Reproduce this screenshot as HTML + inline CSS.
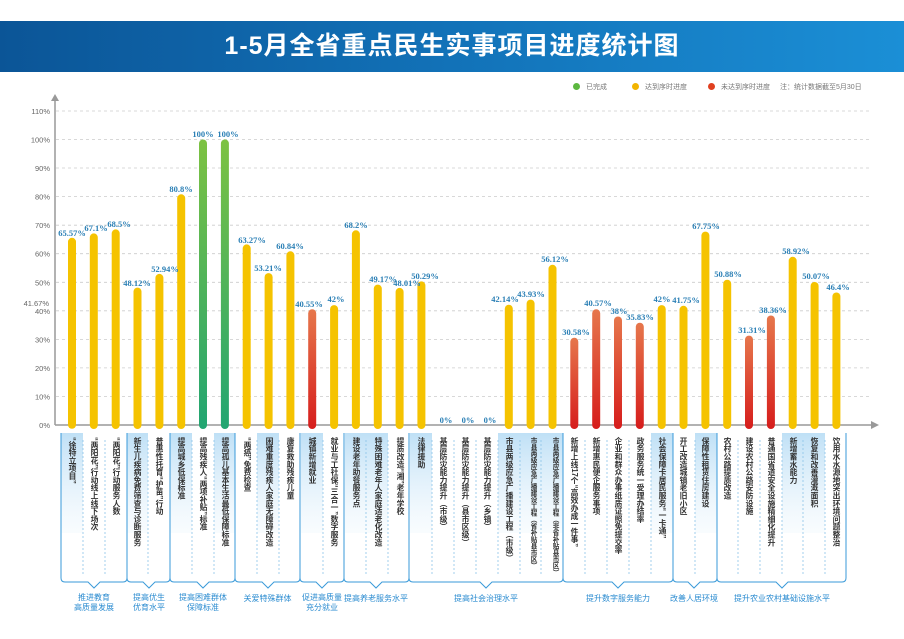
<!DOCTYPE html>
<html><head><meta charset="utf-8"><style>
body{margin:0;width:904px;height:639px;overflow:hidden;background:#fff;font-family:"Liberation Sans","Noto Sans CJK SC",sans-serif;position:relative}
.hd{position:absolute;left:0;top:21px;width:904px;height:51px;background:linear-gradient(90deg,#0b5597,#1272b8 50%,#1b8fd6);color:#fff;text-align:center;font:bold 25px/51px "Liberation Sans","Noto Sans CJK SC",sans-serif;letter-spacing:1px}
.v{position:absolute;top:437px;writing-mode:vertical-rl;font:bold 7.8px/10px "Liberation Sans","Noto Sans CJK SC",sans-serif;color:#333;width:10px}
.s{font-size:6.6px}
.g{position:absolute;font:8px/10px "Liberation Sans","Noto Sans CJK SC",sans-serif;color:#2a8bd0;text-align:center}
.lg{position:absolute;top:83px;font:7px/10px "Liberation Sans","Noto Sans CJK SC",sans-serif;color:#777}
.dot{display:inline-block;width:7px;height:7px;border-radius:50%;vertical-align:-1px;margin-right:6px}
</style></head><body>
<div class="hd">1-5月全省重点民生实事项目进度统计图</div>
<div class="lg" style="left:573px"><span class="dot" style="background:#5cb840"></span>已完成</div>
<div class="lg" style="left:632px"><span class="dot" style="background:#f2b400"></span>达到序时进度</div>
<div class="lg" style="left:708px"><span class="dot" style="background:#e04020"></span>未达到序时进度</div>
<div class="lg" style="left:780px">注：统计数据截至5月30日</div>
<svg width="904" height="639" style="position:absolute;left:0;top:0" font-family="Liberation Sans, Noto Sans CJK SC, sans-serif">
<defs>
<linearGradient id="gg" x1="0" y1="0" x2="0" y2="1"><stop offset="0" stop-color="#7dc242"/><stop offset="1" stop-color="#22a572"/></linearGradient>
<linearGradient id="rg" x1="0" y1="0" x2="0" y2="1"><stop offset="0" stop-color="#e6774c"/><stop offset="1" stop-color="#d61d1c"/></linearGradient>
<linearGradient id="bg" x1="0" y1="0" x2="0" y2="1"><stop offset="0" stop-color="#bfe0f6"/><stop offset="1" stop-color="#eaf5fc" stop-opacity="0.3"/></linearGradient>
</defs>
<g stroke="#ccc" stroke-dasharray="3,3" stroke-width="0.8">
<line x1="56" x2="872" y1="111" y2="111"/><line x1="56" x2="872" y1="139.5" y2="139.5"/><line x1="56" x2="872" y1="168" y2="168"/><line x1="56" x2="872" y1="196.6" y2="196.6"/><line x1="56" x2="872" y1="225.2" y2="225.2"/><line x1="56" x2="872" y1="253.7" y2="253.7"/><line x1="56" x2="872" y1="282.3" y2="282.3"/><line x1="56" x2="872" y1="310.8" y2="310.8"/><line x1="56" x2="872" y1="339.4" y2="339.4"/><line x1="56" x2="872" y1="367.9" y2="367.9"/><line x1="56" x2="872" y1="396.5" y2="396.5"/>
</g>
<g font-size="7.5" fill="#666" text-anchor="end">
<text x="50" y="114">110%</text><text x="50" y="142.5">100%</text><text x="50" y="171">90%</text><text x="50" y="199.6">80%</text><text x="50" y="228.2">70%</text><text x="50" y="256.7">60%</text><text x="50" y="285.3">50%</text><text x="50" y="313.8">40%</text><text x="50" y="342.4">30%</text><text x="50" y="370.9">20%</text><text x="50" y="399.5">10%</text><text x="50" y="428">0%</text><text x="49" y="306">41.67%</text>
</g>
<line x1="55" y1="100" x2="55" y2="425" stroke="#999" stroke-width="1.5"/><polygon points="51,101 59,101 55,94" fill="#999"/>
<line x1="55" y1="425" x2="872" y2="425" stroke="#999" stroke-width="1.5"/><polygon points="871,421 871,429 879,425" fill="#999"/>
<g fill="url(#bg)">
<rect x="61" y="433" width="22" height="100"/><rect x="127" y="433" width="21" height="100"/><rect x="170" y="433" width="22" height="100"/><rect x="214" y="433" width="21" height="100"/><rect x="257" y="433" width="22" height="100"/><rect x="301" y="433" width="22" height="100"/><rect x="345" y="433" width="43" height="100"/><rect x="410" y="433" width="22" height="100"/><rect x="498" y="433" width="65" height="100"/><rect x="651" y="433" width="22" height="100"/><rect x="695" y="433" width="22" height="100"/><rect x="782" y="433" width="43" height="100"/>
</g>
<g fill="none" stroke="#3a9ad9" stroke-width="1">
<path d="M61,433V578Q61,582 65,582H88L94,588L100,582H123Q127,582 127,578V433"/>
<path d="M127,433V578Q127,582 131,582H143L149,588L155,582H166Q170,582 170,578V433"/>
<path d="M170,433V578Q170,582 174,582H197L203,588L209,582H231Q235,582 235,578V433"/>
<path d="M235,433V578Q235,582 239,582H262L268,588L274,582H296Q300,582 300,578V433"/>
<path d="M300,433V578Q300,582 304,582H316L322,588L328,582H340Q344,582 344,578V433"/>
<path d="M344,433V578Q344,582 348,582H370L376,588L382,582H405Q409,582 409,578V433"/>
<path d="M409,433V578Q409,582 413,582H480L486,588L492,582H559Q563,582 563,578V433"/>
<path d="M563,433V578Q563,582 567,582H612L618,588L624,582H669Q673,582 673,578V433"/>
<path d="M673,433V578Q673,582 677,582H688L694,588L700,582H713Q717,582 717,578V433"/>
<path d="M717,433V578Q717,582 721,582H776L782,588L788,582H842Q846,582 846,578V433"/>
</g>
<g stroke="#8cc4e8" stroke-dasharray="2,2" stroke-width="0.8">
<line x1="83" x2="83" y1="440" y2="575"/><line x1="105" x2="105" y1="440" y2="575"/><line x1="148" x2="148" y1="440" y2="575"/><line x1="192" x2="192" y1="440" y2="575"/><line x1="214" x2="214" y1="440" y2="575"/><line x1="257" x2="257" y1="440" y2="575"/><line x1="279" x2="279" y1="440" y2="575"/><line x1="323" x2="323" y1="440" y2="575"/><line x1="366" x2="366" y1="440" y2="575"/><line x1="388" x2="388" y1="440" y2="575"/><line x1="432" x2="432" y1="440" y2="575"/><line x1="454" x2="454" y1="440" y2="575"/><line x1="476" x2="476" y1="440" y2="575"/><line x1="498" x2="498" y1="440" y2="575"/><line x1="520" x2="520" y1="440" y2="575"/><line x1="541" x2="541" y1="440" y2="575"/><line x1="585" x2="585" y1="440" y2="575"/><line x1="607" x2="607" y1="440" y2="575"/><line x1="629" x2="629" y1="440" y2="575"/><line x1="651" x2="651" y1="440" y2="575"/><line x1="695" x2="695" y1="440" y2="575"/><line x1="738" x2="738" y1="440" y2="575"/><line x1="760" x2="760" y1="440" y2="575"/><line x1="782" x2="782" y1="440" y2="575"/><line x1="803" x2="803" y1="440" y2="575"/><line x1="825" x2="825" y1="440" y2="575"/>
</g>
<g fill="#f5c300">
<rect x="68" y="237.8" width="8" height="191" rx="4"/><rect x="89.8" y="233.4" width="8" height="195.6" rx="4"/><rect x="111.7" y="229.4" width="8" height="199.6" rx="4"/><rect x="133.5" y="287.6" width="8" height="141.4" rx="4"/><rect x="155.4" y="273.9" width="8" height="155.1" rx="4"/><rect x="177.2" y="194.3" width="8" height="234.7" rx="4"/>
<rect x="242.7" y="244.4" width="8" height="184.6" rx="4"/><rect x="264.6" y="273.1" width="8" height="155.9" rx="4"/><rect x="286.4" y="251.3" width="8" height="177.7" rx="4"/>
<rect x="330.1" y="305.1" width="8" height="123.9" rx="4"/><rect x="351.9" y="230.3" width="8" height="198.7" rx="4"/><rect x="373.8" y="284.6" width="8" height="144.4" rx="4"/><rect x="395.6" y="287.9" width="8" height="141.1" rx="4"/><rect x="417.4" y="281.4" width="8" height="147.6" rx="4"/>
<rect x="504.8" y="304.7" width="8" height="124.3" rx="4"/><rect x="526.6" y="299.6" width="8" height="129.4" rx="4"/><rect x="548.5" y="264.8" width="8" height="164.2" rx="4"/>
<rect x="657.7" y="305.1" width="8" height="123.9" rx="4"/><rect x="679.5" y="305.8" width="8" height="123.2" rx="4"/><rect x="701.4" y="231.6" width="8" height="197.4" rx="4"/><rect x="723.2" y="279.7" width="8" height="149.3" rx="4"/>
<rect x="788.7" y="256.8" width="8" height="172.2" rx="4"/><rect x="810.6" y="282" width="8" height="147" rx="4"/><rect x="832.4" y="292.5" width="8" height="136.5" rx="4"/>
</g>
<g fill="url(#gg)"><rect x="199" y="139.5" width="8" height="289.5" rx="4"/><rect x="220.9" y="139.5" width="8" height="289.5" rx="4"/></g>
<g fill="url(#rg)">
<rect x="308.2" y="309.2" width="8" height="119.8" rx="4"/><rect x="570.3" y="337.7" width="8" height="91.3" rx="4"/><rect x="592.2" y="309.2" width="8" height="119.8" rx="4"/><rect x="614" y="316.5" width="8" height="112.5" rx="4"/><rect x="635.8" y="322.7" width="8" height="106.3" rx="4"/><rect x="745" y="335.6" width="8" height="93.4" rx="4"/><rect x="766.9" y="315.5" width="8" height="113.5" rx="4"/>
</g>
<g font-size="8.5" font-weight="bold" fill="#2a7fb5" text-anchor="middle" font-family="Liberation Serif, serif">
<text x="72" y="236">65.57%</text><text x="96" y="231">67.1%</text><text x="119" y="227">68.5%</text><text x="137" y="286">48.12%</text><text x="165" y="272">52.94%</text><text x="181" y="192">80.8%</text><text x="203" y="137">100%</text><text x="228" y="137">100%</text>
<text x="252" y="243">63.27%</text><text x="268" y="271">53.21%</text><text x="290" y="249">60.84%</text><text x="309" y="307">40.55%</text><text x="336" y="302">42%</text><text x="356" y="228">68.2%</text><text x="383" y="282">49.17%</text><text x="407" y="286">48.01%</text><text x="425" y="279">50.29%</text>
<text x="446" y="423">0%</text><text x="468" y="423">0%</text><text x="490" y="423">0%</text>
<text x="505" y="302">42.14%</text><text x="531" y="297">43.93%</text><text x="555" y="262">56.12%</text><text x="576" y="335">30.58%</text><text x="598" y="306">40.57%</text><text x="619" y="314">38%</text><text x="640" y="320">35.83%</text><text x="662" y="302">42%</text><text x="686" y="303">41.75%</text><text x="706" y="229">67.75%</text><text x="728" y="277">50.88%</text><text x="752" y="333">31.31%</text><text x="773" y="313">38.36%</text><text x="796" y="254">58.92%</text><text x="816" y="279">50.07%</text><text x="838" y="290">46.4%</text>
</g>
</svg>
<div class="v" style="left:67px">“徐特立项目”</div>
<div class="v" style="left:89px">“两阳花”行动线上线下场次</div>
<div class="v" style="left:111px">“两阳花”行动服务人数</div>
<div class="v" style="left:132px">新生儿疾病免费筛查与诊断服务</div>
<div class="v" style="left:154px">普惠性托育“护苗”行动</div>
<div class="v" style="left:176px">提高城乡低保标准</div>
<div class="v" style="left:198px">提高残疾人“两项补贴”标准</div>
<div class="v" style="left:220px">提高孤儿基本生活最低保障标准</div>
<div class="v" style="left:242px">“两癌”免费检查</div>
<div class="v" style="left:264px">困难重度残疾人家庭无障碍改造</div>
<div class="v" style="left:285px">康复救助残疾儿童</div>
<div class="v" style="left:307px">城镇新增就业</div>
<div class="v" style="left:329px">就业与工社保“三合一”数字服务</div>
<div class="v" style="left:351px">建设老年助餐服务点</div>
<div class="v" style="left:373px">特殊困难老年人家庭适老化改造</div>
<div class="v" style="left:395px">提质改造“湘”老年学校</div>
<div class="v" style="left:416px">法律援助</div>
<div class="v" style="left:438px">基层防灾能力提升（市级）</div>
<div class="v" style="left:460px">基层防灾能力提升（县市区级）</div>
<div class="v" style="left:482px">基层防灾能力提升（乡镇）</div>
<div class="v" style="left:504px">市县两级应急广播建设工程（市级）</div>
<div class="v s" style="left:527px">市县两级应急广播建设工程（省补贴县市区）</div>
<div class="v s" style="left:549px">市县两级应急广播建设工程（非省补贴县市区）</div>
<div class="v" style="left:569px">新增上线17个“高效办成一件事”</div>
<div class="v" style="left:591px">新增惠民便企服务事项</div>
<div class="v" style="left:613px">企业和群众办事纸质证照免提交率</div>
<div class="v" style="left:635px">政务服务统一受理办结率</div>
<div class="v" style="left:657px">社会保障卡居民服务“一卡通”</div>
<div class="v" style="left:678px">开工改造城镇老旧小区</div>
<div class="v" style="left:700px">保障性租赁住房建设</div>
<div class="v" style="left:722px">农村公路提质改造</div>
<div class="v" style="left:744px">建设农村公路安防设施</div>
<div class="v" style="left:766px">普通国省道安全设施精细化提升</div>
<div class="v" style="left:788px">新增蓄水能力</div>
<div class="v" style="left:809px">恢复和改善灌溉面积</div>
<div class="v" style="left:831px">饮用水水源地突出环境问题整治</div>
<div class="g" style="left:64px;top:593px;width:60px">推进教育<br>高质量发展</div>
<div class="g" style="left:124px;top:593px;width:50px">提高优生<br>优育水平</div>
<div class="g" style="left:173px;top:593px;width:60px">提高困难群体<br>保障标准</div>
<div class="g" style="left:235px;top:594px;width:65px">关爱特殊群体</div>
<div class="g" style="left:297px;top:593px;width:50px">促进高质量<br>充分就业</div>
<div class="g" style="left:341px;top:594px;width:70px">提高养老服务水平</div>
<div class="g" style="left:446px;top:594px;width:80px">提高社会治理水平</div>
<div class="g" style="left:578px;top:594px;width:80px">提升数字服务能力</div>
<div class="g" style="left:664px;top:594px;width:60px">改善人居环境</div>
<div class="g" style="left:722px;top:594px;width:120px">提升农业农村基础设施水平</div>
</body></html>
